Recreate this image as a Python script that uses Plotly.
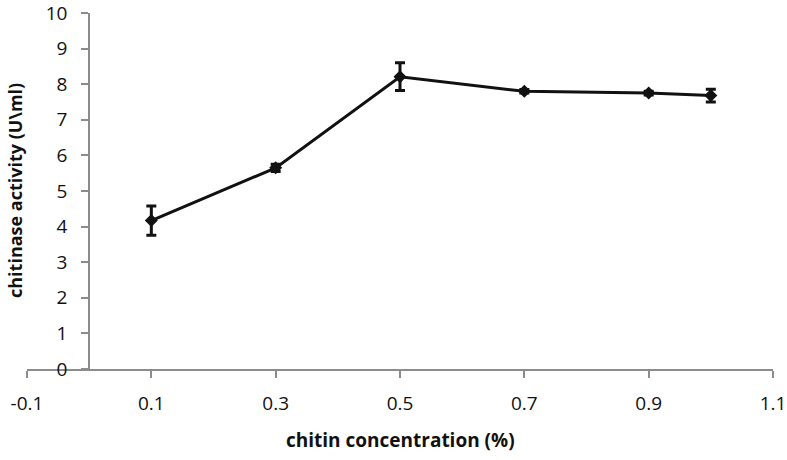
import plotly.graph_objects as go

conc = [0.1, 0.3, 0.5, 0.7, 0.9, 1.0]
activity = [4.17, 5.65, 8.21, 7.80, 7.75, 7.68]
err = [0.41, 0.10, 0.39, 0.05, 0.05, 0.18]
xticks = [-0.1, 0.1, 0.3, 0.5, 0.7, 0.9, 1.1]
xticklabels = ["-0.1", "0.1", "0.3", "0.5", "0.7", "0.9", "1.1"]
yticks = list(range(0, 11))

FONT = "Open Sans"
fig = go.Figure()
fig.add_trace(go.Scatter(
    x=conc, y=activity, mode="lines+markers",
    line=dict(color="#111111", width=3),
    marker=dict(symbol="diamond", size=10, color="#111111"),
    error_y=dict(type="data", array=err, visible=True, color="#111111", thickness=3, width=5),
    showlegend=False, cliponaxis=False,
))
fig.update_layout(
    width=787, height=460,
    margin=dict(l=27, r=14, t=13, b=91),
    paper_bgcolor="white", plot_bgcolor="white",
    font=dict(family=FONT, size=19, color="#111111"),
    xaxis=dict(range=[-0.1, 1.1], tickvals=xticks, ticktext=xticklabels,
               showgrid=False, zeroline=False, showline=True, linecolor="#8c8c8c", linewidth=2,
               ticks="outside", ticklen=7, tickwidth=2, tickcolor="#8c8c8c",
               ticklabelstandoff=9, anchor="y", automargin=False,
               ticklabeloverflow="allow",
               tickfont=dict(size=19, family=FONT)),
    yaxis=dict(range=[0, 10], tickvals=yticks, showgrid=False, zeroline=False,
               showline=True, linecolor="#8c8c8c", linewidth=2,
               ticks="outside", ticklen=7, tickwidth=2, tickcolor="#8c8c8c",
               anchor="free", position=1/12, ticklabelstandoff=10, automargin=False,
               ticklabeloverflow="allow",
               tickfont=dict(size=19, family=FONT)),
    annotations=[
        dict(text="<b>chitin concentration (%)</b>", xref="paper", yref="paper",
             x=0.5, y=0, yshift=-71, showarrow=False, font=dict(size=19, family=FONT),
             xanchor="center", yanchor="middle"),
        dict(text="<b>chitinase activity (U\\ml)</b>", xref="paper", yref="paper",
             x=0, xshift=-12, y=0.5, textangle=-90, showarrow=False,
             font=dict(size=18, family=FONT), xanchor="center", yanchor="middle"),
    ],
)
fig.write_html("out.html", config={"displayModeBar": False},
               post_script="document.body.style.margin='0';document.body.style.overflow='hidden';")
